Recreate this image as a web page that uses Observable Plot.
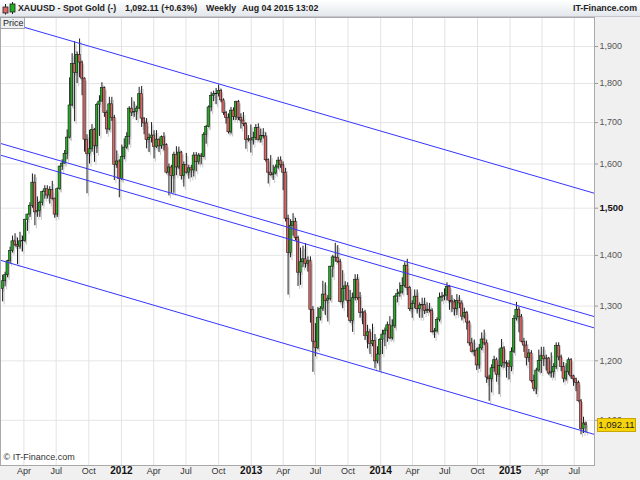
<!DOCTYPE html>
<html><head><meta charset="utf-8">
<script src="https://cdn.jsdelivr.net/npm/d3@7"></script>
<script src="https://cdn.jsdelivr.net/npm/@observablehq/plot@0.6"></script>
<style>
body{margin:0;background:#f0f0f0;font-family:"Liberation Sans",Arial,sans-serif;}
#wrap{position:relative;width:640px;height:480px;overflow:hidden;background:#f0f0f0;}
#hdr{position:relative;height:17px;box-sizing:border-box;background:linear-gradient(#ffffff,#e3e7ec);border-bottom:1px solid #c4c8cc;font-weight:bold;font-size:8.8px;color:#222;}
#hdr span{position:absolute;top:0;line-height:16px;white-space:nowrap;}
#hdr svg{position:absolute;left:2px;top:2px;}
#chart svg{display:block;}
.ov{position:absolute;box-sizing:border-box;white-space:nowrap;}
</style></head>
<body>
<div id="wrap">
<div id="hdr">
<svg width="14" height="13" viewBox="0 0 14 13">
<line x1="3.5" y1="2" x2="3.5" y2="12.5" stroke="#222" stroke-width="1"/>
<rect x="1" y="5" width="5" height="6" fill="#e06666" stroke="#222" stroke-width="0.8"/>
<line x1="10.5" y1="0" x2="10.5" y2="12" stroke="#222" stroke-width="1"/>
<rect x="8" y="2" width="5" height="8" fill="#22b022" stroke="#222" stroke-width="0.8"/>
</svg>
<span style="left:18px">XAUUSD - Spot Gold (-)</span>
<span style="left:125px">1,092.11 (+0.63%)</span>
<span style="left:206px">Weekly</span>
<span style="left:242px">Aug 04 2015 13:02</span>
<span style="right:3px">IT-Finance.com</span>
</div>
<div id="chart"></div>
</div>
<script>
// ---- data (weekly candles, week starting Monday, Jan 31 2011 .. Aug 3 2015) ----
const firstWeek = "2011-01-31";
const lastWeek = "2015-08-03";

const open = [
// 2011
1333,1348,1360,1388,1409,1429,1421,1418,1429,1430,1474,1486,1505,1557,1491,1494,1511,1536,1542,1528,1540,1521,1486,1542,1594,1601,1624,1663,1743,1852,1828,1876,1856,1813,1658,1624,1635,1682,1642,1744,1753,1788,1724,1683,1746,1711,1598,1606,
// 2012
1565,1617,1639,1665,1735,1725,1727,1735,1772,1710,1698,1657,1662,1668,1640,1658,1642,1664,1645,1580,1592,1572,1622,1592,1627,1572,1598,1580,1590,1585,1620,1605,1620,1617,1670,1689,1738,1768,1772,1773,1780,1756,1724,1711,1676,1730,1714,1752,1712,1705,1696,1657,1659,
// 2013
1656,1662,1687,1658,1667,1666,1609,1580,1574,1578,1592,1608,1597,1580,1477,1405,1462,1470,1436,1365,1386,1392,1383,1388,1293,1234,1223,1278,1295,1322,1310,1313,1377,1396,1395,1387,1308,1333,1338,1310,1272,1315,1351,1315,1287,1288,1244,1251,1230,1235,1199,1211,
// 2014
1237,1247,1254,1264,1240,1262,1318,1323,1326,1339,1379,1335,1294,1304,1318,1294,1301,1302,1291,1293,1291,1251,1253,1274,1316,1318,1320,1337,1310,1307,1294,1310,1305,1280,1287,1269,1231,1216,1218,1192,1222,1238,1231,1171,1168,1187,1201,1176,1191,1222,1196,1195,
// 2015
1189,1216,1276,1293,1279,1234,1227,1205,1213,1165,1152,1183,1200,1208,1203,1204,1178,1180,1189,1226,1206,1189,1169,1180,1201,1173,1168,1162,1131,1086,1095
];
const high = [
// 2011
1360,1366,1390,1417,1440,1445,1436,1448,1440,1476,1487,1512,1577,1575,1525,1515,1538,1550,1550,1548,1560,1522,1545,1595,1610,1632,1682,1815,1880,1913,1885,1921,1860,1815,1670,1681,1695,1685,1749,1768,1802,1791,1730,1764,1764,1718,1631,1610,
// 2012
1645,1660,1675,1740,1763,1752,1741,1790,1792,1712,1710,1672,1700,1680,1680,1660,1667,1675,1648,1600,1597,1628,1641,1640,1630,1605,1625,1597,1597,1627,1627,1625,1625,1675,1693,1742,1777,1780,1787,1796,1785,1760,1728,1722,1738,1737,1754,1756,1722,1725,1700,1668,1694,
// 2013
1676,1695,1697,1684,1685,1675,1612,1620,1597,1598,1616,1617,1605,1590,1485,1475,1488,1478,1440,1415,1419,1424,1397,1397,1299,1267,1297,1299,1348,1345,1320,1378,1400,1425,1420,1392,1369,1347,1345,1330,1325,1361,1361,1326,1295,1292,1264,1256,1266,1247,1225,1240,
// 2014
1255,1259,1270,1280,1274,1320,1332,1345,1355,1385,1392,1338,1310,1331,1331,1306,1315,1315,1306,1305,1295,1258,1278,1325,1326,1333,1345,1340,1320,1312,1322,1320,1310,1296,1290,1272,1240,1237,1222,1229,1250,1255,1237,1175,1193,1208,1205,1221,1238,1225,1200,1200,
// 2015
1223,1282,1307,1298,1284,1240,1235,1220,1218,1175,1187,1219,1224,1224,1210,1206,1214,1195,1232,1232,1210,1197,1195,1205,1204,1175,1170,1165,1134,1105,1097
];
const low = [
// 2011
1308,1337,1355,1383,1405,1418,1381,1413,1407,1427,1450,1480,1500,1462,1480,1480,1505,1520,1520,1509,1518,1478,1480,1540,1585,1600,1610,1660,1740,1702,1800,1815,1768,1628,1532,1600,1628,1604,1625,1666,1752,1713,1671,1680,1703,1562,1590,1523,
// 2012
1562,1610,1635,1645,1715,1713,1705,1733,1688,1670,1636,1627,1650,1612,1637,1627,1635,1631,1577,1527,1533,1533,1573,1588,1563,1547,1577,1565,1568,1570,1582,1598,1598,1615,1647,1687,1727,1753,1745,1765,1750,1718,1696,1672,1672,1705,1705,1705,1684,1690,1635,1652,1626,
// 2013
1645,1656,1655,1650,1660,1605,1554,1572,1562,1575,1588,1590,1539,1470,1321,1395,1440,1430,1338,1340,1375,1374,1366,1268,1180,1207,1220,1272,1290,1282,1270,1310,1355,1386,1384,1306,1295,1310,1278,1268,1251,1310,1311,1277,1265,1236,1221,1211,1225,1186,1195,1182,
// 2014
1211,1225,1233,1238,1237,1258,1306,1317,1323,1335,1320,1290,1277,1295,1285,1277,1277,1284,1286,1287,1250,1240,1250,1270,1308,1310,1310,1292,1288,1281,1282,1295,1272,1276,1255,1226,1214,1207,1183,1185,1218,1227,1161,1131,1145,1180,1163,1142,1188,1187,1170,1167,
// 2015
1181,1213,1272,1250,1232,1215,1191,1197,1162,1147,1142,1180,1178,1190,1182,1175,1170,1170,1185,1200,1181,1162,1165,1175,1168,1156,1147,1130,1077,1079,1080
];
const close = [
// 2011
1348,1360,1388,1409,1429,1421,1418,1429,1430,1474,1486,1505,1557,1491,1494,1511,1536,1542,1528,1540,1521,1486,1542,1594,1601,1624,1663,1743,1852,1828,1876,1856,1813,1658,1624,1635,1682,1642,1744,1753,1788,1724,1683,1746,1711,1598,1606,1565,
// 2012
1617,1639,1665,1735,1725,1727,1735,1772,1710,1698,1657,1662,1668,1640,1658,1642,1664,1645,1580,1592,1572,1622,1592,1627,1572,1598,1580,1590,1585,1620,1605,1620,1617,1670,1689,1738,1768,1772,1773,1780,1756,1724,1711,1676,1730,1714,1752,1712,1705,1696,1657,1659,1656,
// 2013
1662,1687,1658,1667,1666,1609,1580,1574,1578,1592,1608,1597,1580,1477,1405,1462,1470,1436,1365,1386,1392,1383,1388,1293,1234,1223,1278,1295,1322,1310,1313,1377,1396,1395,1387,1308,1333,1338,1310,1272,1315,1351,1315,1287,1288,1244,1251,1230,1235,1199,1211,1237,
// 2014
1247,1254,1264,1240,1262,1318,1323,1326,1339,1379,1335,1294,1304,1318,1294,1301,1302,1291,1293,1291,1251,1253,1274,1316,1318,1320,1337,1310,1307,1294,1310,1305,1280,1287,1269,1231,1216,1218,1192,1222,1238,1231,1171,1168,1187,1201,1176,1191,1222,1196,1195,1189,
// 2015
1216,1276,1293,1279,1234,1227,1205,1213,1165,1152,1183,1200,1208,1203,1204,1178,1180,1189,1226,1206,1189,1169,1180,1201,1173,1168,1162,1131,1086,1095,1092.11
];
const lastPrice = 1092.11;

// trend lines drawn on the chart (start / end of each line)
const trendNames = ["upper", "channelTop", "channelBottom", "lower"];
const trendStartDate = "2011-01-25";
const trendEndDate = "2015-08-27";
const trendStartPrice = [1974, 1649, 1621, 1390];
const trendEndPrice = [1533, 1280, 1259, 1077.5];

// axis ticks
const yTicks = [1100, 1200, 1300, 1400, 1500, 1600, 1700, 1800, 1900];
const yTicksBold = [1500];
const xTickDates = ["2011-04-01","2011-07-01","2011-10-01","2012-01-01","2012-04-01","2012-07-01","2012-10-01","2013-01-01","2013-04-01","2013-07-01","2013-10-01","2014-01-01","2014-04-01","2014-07-01","2014-10-01","2015-01-01","2015-04-01","2015-07-01"];
const xTickLabels = ["Apr","Jul","Oct","2012","Apr","Jul","Oct","2013","Apr","Jul","Oct","2014","Apr","Jul","Oct","2015","Apr","Jul"];

// ---- build tables ----
const weeks = d3.utcMonday.range(new Date(firstWeek), d3.utcDay.offset(new Date(lastWeek), 1));
const rows = weeks.map((d, i) => ({date: d, open: open[i], high: high[i], low: low[i], close: close[i]}))
  .filter(r => r.open != null);
const up = rows.filter(r => r.close >= r.open);
const down = rows.filter(r => r.close < r.open);
const trends = trendNames.map((n, i) => ({name: n, x1: new Date(trendStartDate), x2: new Date(trendEndDate), y1: trendStartPrice[i], y2: trendEndPrice[i]}));
const xTicks = xTickDates.map((d, i) => ({date: new Date(d), label: xTickLabels[i], year: /^\d{4}$/.test(xTickLabels[i])}));

const bx1 = d => d3.utcHour.offset(d.date, -76);
const bx2 = d => d3.utcHour.offset(d.date, 76);
const green = "#22b022", red = "#e46868", outline = "#1c1c1c", shadow = "#c9c9c9";

const chart = Plot.plot({
  width: 640,
  height: 463,
  marginTop: 0,
  marginRight: 46,
  marginBottom: 15,
  marginLeft: 0,
  style: {background: "#f0f0f0", fontFamily: "Liberation Sans, Arial, sans-serif", overflow: "visible"},
  x: {type: "utc", domain: [new Date(trendStartDate), new Date(trendEndDate)], axis: null},
  y: {type: "log", domain: [1029.7, 1982.3], axis: null},
  marks: [
    Plot.frame({fill: "white", stroke: "none"}),
    Plot.gridY(yTicks, {stroke: "#e6e6e6", strokeOpacity: 1}),
    Plot.gridX(xTicks.map(d => d.date), {stroke: "#e3e3e3", strokeOpacity: 1}),
    // drop shadow of candles
    Plot.ruleX(rows, {x: "date", y1: "low", y2: "high", stroke: shadow, strokeWidth: 1, dx: 1.5, dy: 3}),
    Plot.rect(rows, {x1: bx1, x2: bx2, y1: "open", y2: "close", fill: shadow, dx: 1.5, dy: 3}),
    // candles
    Plot.ruleX(rows, {x: "date", y1: "low", y2: "high", stroke: outline, strokeWidth: 1}),
    Plot.rect(up, {x1: bx1, x2: bx2, y1: "open", y2: "close", fill: green, stroke: outline, strokeWidth: 0.6}),
    Plot.rect(down, {x1: bx1, x2: bx2, y1: "open", y2: "close", fill: red, stroke: outline, strokeWidth: 0.6}),
    // trend lines
    Plot.link(trends, {x1: "x1", y1: "y1", x2: "x2", y2: "y2", stroke: "#3535ff", strokeWidth: 1}),
    // y axis (right)
    Plot.axisY(yTicks.filter(t => !yTicksBold.includes(t)), {anchor: "right", tickSize: 3, tickPadding: 2, tickFormat: d3.format(","), fontSize: 9, fill: "#555", stroke: "#999", label: null}),
    Plot.axisY(yTicksBold, {anchor: "right", tickSize: 3, tickPadding: 2, tickFormat: d3.format(","), fontSize: 9.5, fontWeight: "bold", fill: "#111", stroke: "#999", label: null}),
    // x axis labels
    Plot.text(xTicks.filter(d => !d.year), {x: "date", text: "label", frameAnchor: "bottom", dy: 8.5, fontSize: 9, fill: "#333"}),
    Plot.text(xTicks.filter(d => d.year), {x: "date", text: "label", frameAnchor: "bottom", dy: 8.5, fontSize: 10, fontWeight: "bold", fill: "#111"}),
    Plot.text(["© IT-Finance.com"], {text: d => d, frameAnchor: "bottom-left", textAnchor: "start", dx: 3, dy: -6, fontSize: 9, fill: "#333"}),
    Plot.frame({stroke: "#a9a9a9"})
  ]
});
document.getElementById("chart").appendChild(chart);

// overlays: "Price" pane label and last-price tag
const wrap = document.getElementById("wrap");
const priceBox = document.createElement("div");
priceBox.className = "ov";
priceBox.textContent = "Price";
Object.assign(priceBox.style, {left: "0px", top: "17px", width: "25px", height: "12px", background: "#eef0f3", border: "1px solid #a0a4a8", fontSize: "9px", lineHeight: "10px", color: "#222", paddingLeft: "2px"});
wrap.appendChild(priceBox);

const py = chart.scale("y").apply(lastPrice);
const tag = document.createElement("div");
tag.className = "ov";
tag.textContent = d3.format(",.2f")(lastPrice);
Object.assign(tag.style, {left: "597px", top: (17 + py - 6.5) + "px", width: "39px", height: "14px", background: "#f7d40a", border: "1px solid #c8a800", fontSize: "9.5px", lineHeight: "12px", color: "#222", textAlign: "center"});
wrap.appendChild(tag);
</script>
</body></html>
